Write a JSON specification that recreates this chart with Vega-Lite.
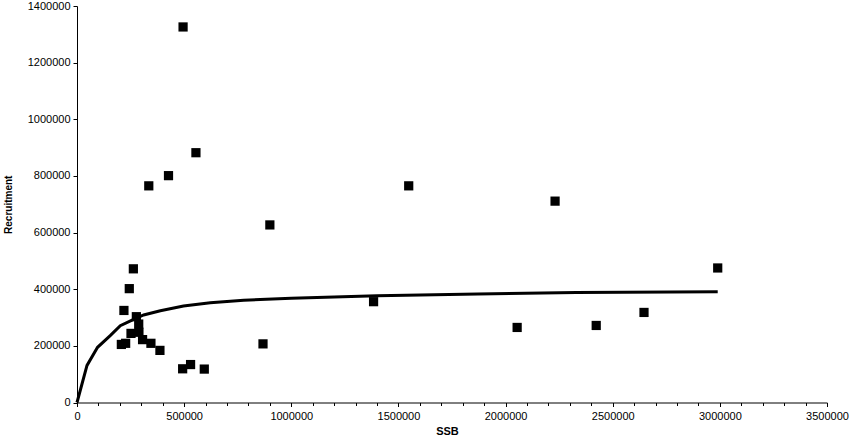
{
  "$schema": "https://vega.github.io/schema/vega-lite/v6.json",
  "width": 750,
  "height": 396.5,
  "autosize": "none",
  "padding": {"left": 77, "top": 6, "right": 25, "bottom": 35.5},
  "background": "white",
  "config": {
    "view": {"stroke": null},
    "axis": {
      "domainColor": "black",
      "domainWidth": 1,
      "tickColor": "black",
      "tickWidth": 1,
      "grid": false,
      "labelFont": "Liberation Sans",
      "labelFontSize": 11,
      "labelColor": "black",
      "titleFont": "Liberation Sans",
      "titleFontSize": 11,
      "titleFontWeight": "bold",
      "titleColor": "black"
    }
  },
  "datasets": {
    "obs": [
      {"SSB": 495000, "Recruitment": 1326000},
      {"SSB": 555000, "Recruitment": 882000},
      {"SSB": 427000, "Recruitment": 801000},
      {"SSB": 335000, "Recruitment": 765000},
      {"SSB": 900000, "Recruitment": 627000},
      {"SSB": 1548000, "Recruitment": 765000},
      {"SSB": 2231000, "Recruitment": 711000},
      {"SSB": 263000, "Recruitment": 472000},
      {"SSB": 244000, "Recruitment": 402000},
      {"SSB": 219000, "Recruitment": 325000},
      {"SSB": 2990000, "Recruitment": 475000},
      {"SSB": 1384000, "Recruitment": 356000},
      {"SSB": 2646000, "Recruitment": 318000},
      {"SSB": 2054000, "Recruitment": 265000},
      {"SSB": 2423000, "Recruitment": 272000},
      {"SSB": 868000, "Recruitment": 207000},
      {"SSB": 493000, "Recruitment": 119000},
      {"SSB": 530000, "Recruitment": 134000},
      {"SSB": 594000, "Recruitment": 118000},
      {"SSB": 387000, "Recruitment": 184000},
      {"SSB": 345000, "Recruitment": 209000},
      {"SSB": 306000, "Recruitment": 222000},
      {"SSB": 207000, "Recruitment": 205000},
      {"SSB": 227000, "Recruitment": 209000},
      {"SSB": 252000, "Recruitment": 244000},
      {"SSB": 289000, "Recruitment": 248000},
      {"SSB": 277000, "Recruitment": 303000},
      {"SSB": 288000, "Recruitment": 277000}
    ],
    "fit": [
      {"SSB": 0, "Recruitment": 0},
      {"SSB": 46700, "Recruitment": 131000},
      {"SSB": 96000, "Recruitment": 195000},
      {"SSB": 155000, "Recruitment": 236000},
      {"SSB": 202000, "Recruitment": 271000},
      {"SSB": 257000, "Recruitment": 291000},
      {"SSB": 311000, "Recruitment": 309000},
      {"SSB": 389000, "Recruitment": 324000},
      {"SSB": 497000, "Recruitment": 341000},
      {"SSB": 622000, "Recruitment": 352000},
      {"SSB": 778000, "Recruitment": 361000},
      {"SSB": 1000000, "Recruitment": 368000},
      {"SSB": 1400000, "Recruitment": 377000},
      {"SSB": 1870000, "Recruitment": 383000},
      {"SSB": 2330000, "Recruitment": 388000},
      {"SSB": 2990000, "Recruitment": 391000}
    ]
  },
  "resolve": {"axis": {"x": "independent"}},
  "layer": [
    {
      "data": {"name": "fit"},
      "mark": {"type": "line", "color": "black", "strokeWidth": 3, "interpolate": "linear"},
      "encoding": {
        "x": {
          "field": "SSB", "type": "quantitative",
          "scale": {"domain": [0, 3500000], "nice": false, "zero": true},
          "axis": {
            "orient": "bottom",
            "title": "SSB",
            "values": [0,100000,200000,300000,400000,500000,600000,700000,800000,900000,1000000,1100000,1200000,1300000,1400000,1500000,1600000,1700000,1800000,1900000,2000000,2100000,2200000,2300000,2400000,2500000,2600000,2700000,2800000,2900000,3000000,3100000,3200000,3300000,3400000,3500000],
            "labels": false,
            "tickSize": {"condition": {"test": "datum.value % 500000 === 0", "value": 4}, "value": 3},
            "titleY": 29,
            "titleBaseline": "middle",
            "titleX": 370
          }
        },
        "y": {
          "field": "Recruitment", "type": "quantitative",
          "scale": {"domain": [0, 1400000], "nice": false},
          "axis": {
            "title": "Recruitment",
            "values": [0,200000,400000,600000,800000,1000000,1200000,1400000],
            "format": "d",
            "tickSize": 4,
            "labelPadding": 3,
            "titleX": -69,
            "titleBaseline": "middle",
            "titleFontSize": 10
          }
        }
      }
    },
    {
      "data": {"name": "obs"},
      "mark": {"type": "point", "shape": "square", "filled": true, "color": "black", "opacity": 1, "size": 85},
      "encoding": {
        "x": {
          "field": "SSB", "type": "quantitative",
          "axis": {
            "orient": "bottom",
            "title": null,
            "values": [0,500000,1000000,1500000,2000000,2500000,3000000,3500000],
            "format": "d",
            "ticks": false,
            "domain": false,
            "labelPadding": 8,
            "labelFlush": false,
            "labelOverlap": false
          }
        },
        "y": {"field": "Recruitment", "type": "quantitative"}
      }
    }
  ]
}
